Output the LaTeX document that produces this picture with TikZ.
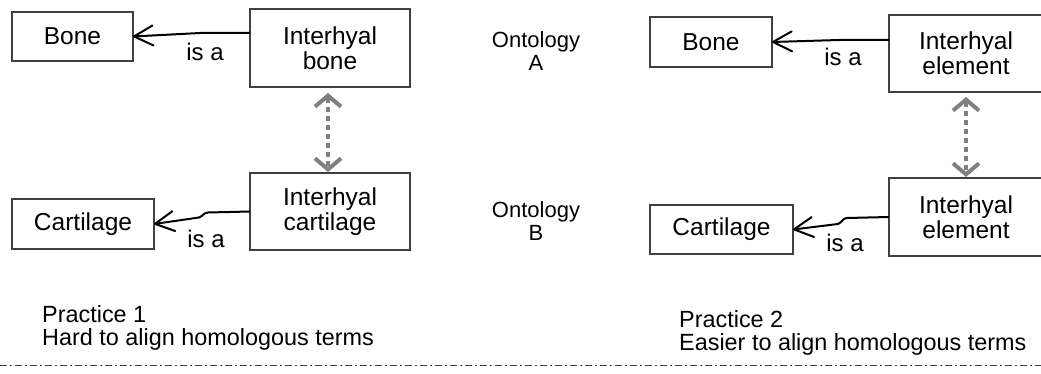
\documentclass[tikz,border=0pt]{standalone}
\usepackage{fontspec}
\setmainfont{Liberation Sans}
\usetikzlibrary{arrows.meta}
\definecolor{boxline}{HTML}{404040}
\definecolor{homolgray}{HTML}{808080}
\begin{document}
\begin{tikzpicture}[x=1pt,y=-1pt,
    >={Straight Barb[length=19pt,width=20pt,line cap=round,line join=round]},
    term/.style={draw=boxline, line width=1.3pt, inner sep=0pt, outer sep=0pt,
      align=center, font=\fontsize{24.5}{25}\selectfont},
    isa/.style={->, line width=2pt},
    isalabel/.style={inner sep=0pt, font=\fontsize{24}{25}\selectfont},
    homol/.style={{Straight Barb[length=11pt,width=26pt]}-{Straight Barb[length=11pt,width=26pt]},
      draw=homolgray, line width=4pt, dash pattern=on 5pt off 4pt},
    note/.style={inner sep=0pt, align=left, font=\fontsize{23.4}{22.5}\selectfont}]
    \useasboundingbox (0,0) rectangle (1041,374);
    \clip (0,0) rectangle (1041,374);

    \node[term, minimum width=121pt, minimum height=49pt] (bone1) at (72.5,36.5) {Bone};
    \node[term, minimum width=160pt, minimum height=78pt] (ib) at (330,48) {Interhyal\\bone};
    \node[term, minimum width=142pt, minimum height=50pt] (cart1) at (83,224) {Cartilage};
    \node[term, minimum width=160pt, minimum height=77pt] (ic) at (330,211.5) {Interhyal\\cartilage};
    \node[isalabel] (isa1) at (205,52) {is a};
    \node[isalabel] (isa2) at (206,239) {is a};
    \draw[isa] ([yshift=15pt]ib.west) -- +(-50,0) -- (bone1.east);
    \draw[isa] (ic.west) -- ++(-42,1) to[out=180,in=20] ++(-9,5) -- (cart1.east);
    \draw[homol, shorten <=6pt, shorten >=1pt] ([xshift=-2pt]ib.south) -- ([xshift=-2pt]ic.north);

    \node[isalabel, align=center, font=\fontsize{22}{23}\selectfont] (ontA) at (536,51) {Ontology\\A};
    \node[isalabel, align=center, font=\fontsize{22}{23}\selectfont] (ontB) at (536,221) {Ontology\\B};

    \node[term, minimum width=122pt, minimum height=50pt] (bone2) at (711,42) {Bone};
    \node[term, minimum width=154pt, minimum height=77pt] (ie1) at (966,53.5) {Interhyal\\element};
    \node[term, minimum width=143pt, minimum height=49pt] (cart2) at (721.5,229.5) {Cartilage};
    \node[term, minimum width=154pt, minimum height=78pt] (ie2) at (966,217) {Interhyal\\element};
    \node[isalabel] (isa3) at (843,57) {is a};
    \node[isalabel] (isa4) at (845,243) {is a};
    \draw[isa] ([yshift=13.5pt]ie1.west) -- +(-50,0) -- (bone2.east);
    \draw[isa] (ie2.west) -- ++(-42,1) to[out=180,in=20] ++(-9,6) -- (cart2.east);
    \draw[homol, shorten <=5pt, shorten >=1pt] (ie1.south) -- (ie2.north);

    \node[note, anchor=base west] (prac1) at (42,345) {Practice 1\\Hard to align homologous terms};
    \node[note, anchor=base west] (prac2) at (679,350) {Practice 2\\Easier to align homologous terms};

    \draw[boxline, line width=1pt, dash pattern=on 7pt off 3pt on 2pt off 3pt] (0,365) -- (1041,365);
\end{tikzpicture}
\end{document}
